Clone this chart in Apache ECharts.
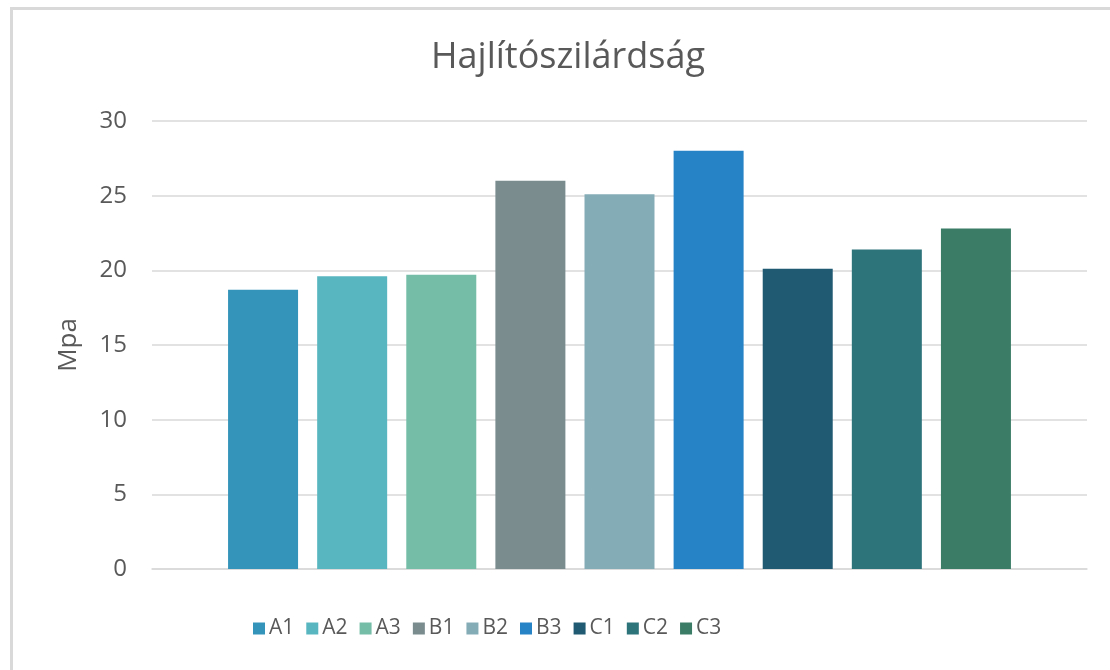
<!DOCTYPE html>
<html>
<head>
<meta charset="utf-8">
<script src="https://cdn.jsdelivr.net/npm/echarts@6/dist/echarts.min.js"></script>
<style>
  html, body { margin: 0; padding: 0; background: #fff; }
  #chart { width: 1110px; height: 670px; }
</style>
</head>
<body>
<div id="chart"></div>
<script>
const seriesNames = ["A1", "A2", "A3", "B1", "B2", "B3", "C1", "C2", "C3"];
const values = [18.7, 19.6, 19.7, 26.0, 25.1, 28.0, 20.1, 21.4, 22.8];
const yTicks = [0, 5, 10, 15, 20, 25, 30];

const palette = ["#3494ba", "#58b6c0", "#75bda7", "#7a8c8e", "#84acb6", "#2683c6", "#1f5a72", "#2d737a", "#3b7c66"];

const chart = echarts.init(document.getElementById("chart"));

chart.setOption({
  animation: false,
  textStyle: { fontFamily: "Open Sans" },
  title: {
    text: "Hajlítószilárdság",
    left: 563,
    textAlign: "center",
    top: 35,
    textStyle: { fontSize: 36, fontWeight: "normal", color: "#595959" },
  },
  graphic: [
    { type: "line", shape: { x1: 10, y1: 8.5, x2: 1110, y2: 8.5 }, style: { stroke: "#d9d9d9", lineWidth: 3 } },
    { type: "line", shape: { x1: 11.5, y1: 8, x2: 11.5, y2: 670 }, style: { stroke: "#d9d9d9", lineWidth: 3 } },
  ],
  legend: {
    left: 253,
    top: 618,
    padding: 0,
    itemWidth: 12,
    itemHeight: 12,
    itemGap: 12,
    icon: "rect",
    textStyle: { fontSize: 21, color: "#595959", padding: [0, 0, 0, -1] },
    data: seriesNames,
  },
  grid: { left: 152, right: 23, top: 121, bottom: 101 },
  xAxis: {
    type: "category",
    data: [""],
    axisLine: { lineStyle: { color: "#d9d9d9", width: 1.5 } },
    axisTick: { show: false },
    axisLabel: { show: false },
  },
  yAxis: {
    type: "value",
    min: yTicks[0],
    max: yTicks[yTicks.length - 1],
    interval: 5,
    name: "Mpa",
    nameLocation: "middle",
    nameGap: 70,
    nameTextStyle: { fontSize: 26, color: "#595959" },
    axisLine: { show: false },
    axisTick: { show: false },
    axisLabel: { fontSize: 24, color: "#595959", margin: 25 },
    splitLine: { lineStyle: { color: "#d9d9d9", width: 1.5 } },
  },
  series: seriesNames.map((name, i) => ({
    name: name,
    type: "bar",
    barWidth: 70,
    barGap: "27.3%",
    itemStyle: { color: palette[i] },
    data: [values[i]],
  })),
});
</script>
</body>
</html>
